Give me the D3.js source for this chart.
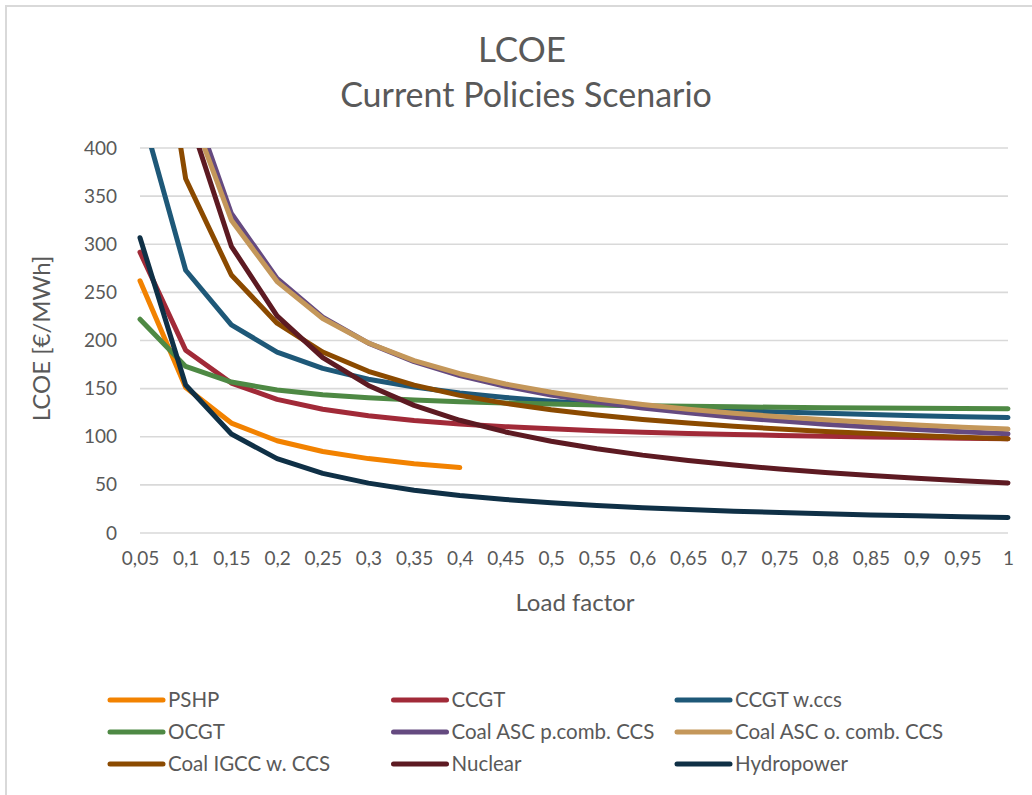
<!DOCTYPE html>
<html>
<head>
<meta charset="utf-8">
<script src="https://cdn.jsdelivr.net/npm/d3@7"></script>
<style>
  html, body { margin: 0; padding: 0; background: #fff; }
  svg { display: block; }
  text { font-family: Lato, "Open Sans", sans-serif; fill: #595959; }
</style>
</head>
<body>
<svg id="chart" width="1032" height="795"></svg>
<script>
// Load factor categories (x axis labels use a decimal comma)
const loadFactors = ["0,05","0,1","0,15","0,2","0,25","0,3","0,35","0,4","0,45","0,5",
                     "0,55","0,6","0,65","0,7","0,75","0,8","0,85","0,9","0,95","1"];

// LCOE in €/MWh per technology, one value per load factor
const pshp       = [262.1,151.2,114.2,95.8,84.7,77.3,72,68,null,null,null,null,null,null,null,null,null,null,null,null];
const ccgt       = [291.8,189.8,155.8,138.8,128.6,121.8,116.9,113.3,110.5,108.2,106.3,104.8,103.5,102.4,101.4,100.6,99.8,99.1,98.5,98];
const ccgtCcs    = [443,273,216.3,188,171,159.7,151.6,145.5,140.8,137,133.9,131.3,129.2,127.3,125.7,124.3,123,121.9,120.9,120];
const ocgt       = [222.1,173.1,156.8,148.6,143.7,140.4,138.1,136.4,135,133.9,133,132.3,131.6,131.1,130.6,130.2,129.9,129.5,129.3,129];
const coalPcomb  = [870.6,466.6,331.9,264.6,224.2,197.3,178,163.6,152.4,143.4,136,129.9,124.8,120.3,116.5,113.1,110.1,107.5,105.1,103];
const coalOcomb  = [835.7,452.7,325,261.2,222.9,197.4,179.1,165.5,154.8,146.3,139.3,133.5,128.6,124.4,120.8,117.6,114.8,112.3,110,108];
const coalIgcc   = [668,368,268,218,188,168,153.7,143,134.7,128,122.5,118,114.2,110.9,108,105.5,103.3,101.3,99.6,98];
const nuclear    = [876.6,442.6,297.9,225.6,182.2,153.3,132.6,117.1,105,95.4,87.5,80.9,75.4,70.6,66.5,62.9,59.7,56.8,54.3,52];
const hydropower = [306.8,153.8,102.8,77.3,62,51.8,44.5,39,34.8,31.4,28.6,26.3,24.3,22.7,21.2,19.9,18.8,17.8,16.9,16.1];

const yTicks = [0,50,100,150,200,250,300,350,400];

const series = [
  { name: "PSHP",                  values: pshp,       color: "#F28200" },
  { name: "CCGT",                  values: ccgt,       color: "#A12A38" },
  { name: "CCGT w.ccs",            values: ccgtCcs,    color: "#1E5878" },
  { name: "OCGT",                  values: ocgt,       color: "#4E8944" },
  { name: "Coal ASC p.comb. CCS",  values: coalPcomb,  color: "#654A80" },
  { name: "Coal ASC o. comb. CCS", values: coalOcomb,  color: "#C4975A" },
  { name: "Coal IGCC w. CCS",      values: coalIgcc,   color: "#8B4A00" },
  { name: "Nuclear",               values: nuclear,    color: "#5D1A22" },
  { name: "Hydropower",            values: hydropower, color: "#0F3046" }
];

const svg = d3.select("#chart");

// chart frame
svg.append("rect")
  .attr("x", 6).attr("y", 6).attr("width", 1100).attr("height", 900)
  .attr("fill", "#fff").attr("stroke", "#d9d9d9").attr("stroke-width", 2);

const plot = { left: 140, right: 1008, top: 148, bottom: 533 };

const x = d3.scalePoint().domain(loadFactors).range([plot.left, plot.right]);
const y = d3.scaleLinear().domain([0, 400]).range([plot.bottom, plot.top]);

// horizontal gridlines
svg.append("g")
  .selectAll("line")
  .data(yTicks)
  .join("line")
  .attr("x1", plot.left).attr("x2", plot.right)
  .attr("y1", d => y(d)).attr("y2", d => y(d))
  .attr("stroke", "#d9d9d9").attr("stroke-width", 1.6);

// y axis labels
const yAxis = svg.append("g")
  .attr("transform", `translate(${plot.left - 23},0)`)
  .call(d3.axisLeft(y).tickValues(yTicks).tickSize(0).tickPadding(0));
yAxis.select(".domain").remove();
yAxis.selectAll("text")
  .style("font-size", "19px").attr("fill", "#595959").attr("text-anchor", "end");

// x axis labels
const xAxis = svg.append("g")
  .attr("transform", `translate(0,${plot.bottom + 18})`)
  .call(d3.axisBottom(x).tickSize(0).tickPadding(0));
xAxis.select(".domain").remove();
xAxis.selectAll("text")
  .style("font-size", "19px").attr("fill", "#595959");

// titles
svg.append("text").attr("x", 522).attr("y", 62).attr("text-anchor", "middle")
  .style("font-size", "35px").text("LCOE");
svg.append("text").attr("x", 526).attr("y", 107).attr("text-anchor", "middle")
  .style("font-size", "34px").text("Current Policies Scenario");
svg.append("text").attr("x", (plot.left + plot.right) / 2 + 1).attr("y", 611)
  .attr("text-anchor", "middle").style("font-size", "24px").text("Load factor");
svg.append("text")
  .attr("transform", `translate(50,${(plot.top + plot.bottom) / 2 - 2}) rotate(-90)`)
  .attr("text-anchor", "middle").style("font-size", "24px").text("LCOE [€/MWh]");

// clip the curves to the plot top
svg.append("clipPath").attr("id", "plotClip")
  .append("rect").attr("x", 0).attr("y", plot.top).attr("width", 1032).attr("height", 500);

const line = d3.line()
  .defined(d => d != null)
  .x((d, i) => x(loadFactors[i]))
  .y(d => y(d));

svg.append("g").attr("clip-path", "url(#plotClip)")
  .selectAll("path")
  .data(series)
  .join("path")
  .attr("d", d => line(d.values))
  .attr("fill", "none")
  .attr("stroke", d => d.color)
  .attr("stroke-width", 5)
  .attr("stroke-linejoin", "round")
  .attr("stroke-linecap", "round");

// legend, three columns
const legend = svg.append("g")
  .selectAll("g")
  .data(series)
  .join("g")
  .attr("transform", (d, i) => `translate(${108 + (i % 3) * 283.5},${700 + Math.floor(i / 3) * 32})`);
legend.append("line")
  .attr("x1", 2).attr("x2", 55)
  .attr("stroke", d => d.color).attr("stroke-width", 5).attr("stroke-linecap", "round");
legend.append("text")
  .attr("x", 60).attr("y", 7)
  .style("font-size", "20.5px").text(d => d.name);
</script>
</body>
</html>
